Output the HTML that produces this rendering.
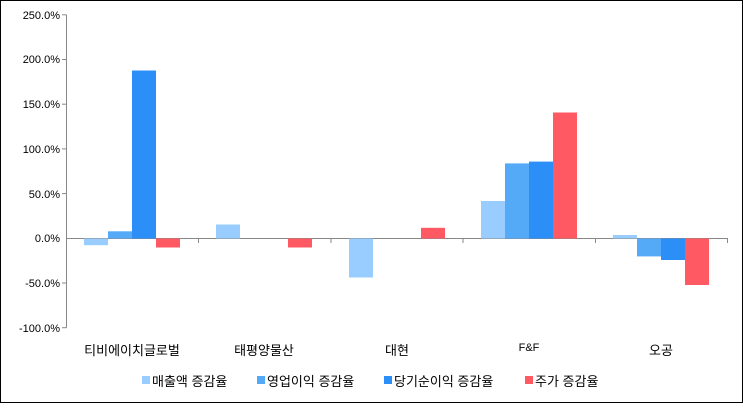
<!DOCTYPE html>
<html><head><meta charset="utf-8"><style>
body{margin:0;background:#fff}
svg text{font-family:"Liberation Sans","Noto Sans CJK KR",sans-serif;fill:#000}
</style></head><body>
<svg width="743" height="403" xmlns="http://www.w3.org/2000/svg">
<rect x="0.5" y="0.5" width="742" height="402" fill="#fff" stroke="#000"/>
<g font-size="11" text-anchor="end">
<text x="60" y="19">250.0%</text>
<text x="60" y="63">200.0%</text>
<text x="60" y="108">150.0%</text>
<text x="60" y="153">100.0%</text>
<text x="60" y="198">50.0%</text>
<text x="60" y="242">0.0%</text>
<text x="60" y="287">-50.0%</text>
<text x="60" y="332">-100.0%</text>
</g>
<g stroke="#888" stroke-width="1">
<line x1="66.5" y1="14.8" x2="66.5" y2="327.7"/>
<line x1="62" y1="14.8" x2="66.5" y2="14.8"/>
<line x1="62" y1="59.5" x2="66.5" y2="59.5"/>
<line x1="62" y1="104.2" x2="66.5" y2="104.2"/>
<line x1="62" y1="148.9" x2="66.5" y2="148.9"/>
<line x1="62" y1="193.6" x2="66.5" y2="193.6"/>
<line x1="62" y1="283" x2="66.5" y2="283"/>
<line x1="62" y1="327.7" x2="66.5" y2="327.7"/>
<line x1="66" y1="238.5" x2="728" y2="238.5"/>
<line x1="198.5" y1="238.5" x2="198.5" y2="243"/>
<line x1="331" y1="238.5" x2="331" y2="243"/>
<line x1="463" y1="238.5" x2="463" y2="243"/>
<line x1="595.5" y1="238.5" x2="595.5" y2="243"/>
<line x1="727.5" y1="238.5" x2="727.5" y2="243"/>
</g>
<rect x="84" y="238.5" width="24" height="6.7" fill="#99CCFF"/>
<rect x="108" y="231.3" width="24" height="7.2" fill="#55AAF8"/>
<rect x="132" y="70.5" width="24" height="168" fill="#2C8FF8"/>
<rect x="156" y="238.5" width="24" height="9" fill="#FF5A64"/>
<rect x="216" y="224.5" width="24" height="14" fill="#99CCFF"/>
<rect x="288" y="238.5" width="24" height="9" fill="#FF5A64"/>
<rect x="349" y="238.5" width="24" height="39" fill="#99CCFF"/>
<rect x="421" y="227.8" width="24" height="10.7" fill="#FF5A64"/>
<rect x="481" y="201" width="24" height="37.5" fill="#99CCFF"/>
<rect x="505" y="163.4" width="24" height="75.1" fill="#55AAF8"/>
<rect x="529" y="161.6" width="24" height="76.9" fill="#2C8FF8"/>
<rect x="553" y="112.5" width="24" height="126" fill="#FF5A64"/>
<rect x="613" y="235" width="24" height="3.5" fill="#99CCFF"/>
<rect x="637" y="238.5" width="24" height="17.9" fill="#55AAF8"/>
<rect x="661" y="238.5" width="24" height="21.5" fill="#2C8FF8"/>
<rect x="685" y="238.5" width="24" height="46.5" fill="#FF5A64"/>
<g font-size="13" text-anchor="middle">
<text x="132" y="355">티비에이치글로벌</text>
<text x="264" y="355">태평양물산</text>
<text x="397" y="355">대현</text>
<text x="529" y="351" font-size="11">F&amp;F</text>
<text x="661" y="355">오공</text>
</g>
<g font-size="13">
<rect x="142" y="376" width="8" height="8" fill="#99CCFF"/><text x="152" y="386">매출액 증감율</text>
<rect x="257" y="376" width="8" height="8" fill="#55AAF8"/><text x="267" y="386">영업이익 증감율</text>
<rect x="384" y="376" width="8" height="8" fill="#2C8FF8"/><text x="394" y="386">당기순이익 증감율</text>
<rect x="525" y="376" width="8" height="8" fill="#FF5A64"/><text x="535" y="386">주가 증감율</text>
</g>
</svg>
</body></html>
